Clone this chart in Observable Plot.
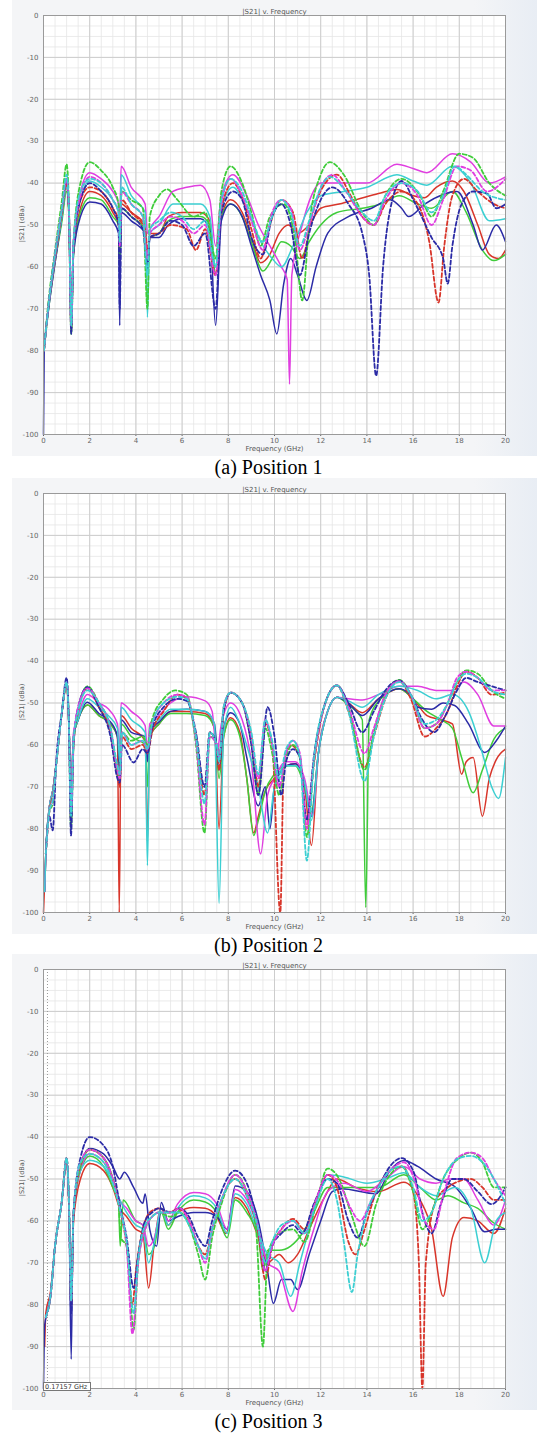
<!DOCTYPE html>
<html><head><meta charset="utf-8">
<script src="https://cdn.jsdelivr.net/npm/d3@7"></script>
<script src="https://cdn.jsdelivr.net/npm/@observablehq/plot@0.6"></script>
<style>
body{margin:0;background:#fff;width:537px;height:1435px;overflow:hidden;}
.panel{position:relative;width:537px;}
.shot{position:absolute;left:12px;top:0;width:525px;height:456px;background:linear-gradient(to right,#f4f5f7 0%,#f4f5f7 88%,#e8edf4 100%);}
.panel svg{position:absolute;left:0;top:0;}
.ylab{position:absolute;left:-8px;top:220px;width:60px;text-align:center;transform:rotate(-90deg);font-family:"DejaVu Sans",sans-serif;font-size:6.5px;color:#555;}
.cap{position:absolute;left:0;width:537px;text-align:center;font-family:"Times New Roman","Liberation Serif","DejaVu Serif",serif;font-size:20px;line-height:22px;color:#000;z-index:5;}
.marker{position:absolute;left:43px;top:428px;width:48px;height:9px;border:1px solid #777;background:#fff;font-family:"DejaVu Sans",sans-serif;font-size:6.5px;line-height:9px;color:#333;padding-left:1px;box-sizing:border-box;}
</style></head>
<body>
<div id="root"></div>
<script>
// ---------- data: |S21| (dB) vs frequency (GHz) ----------
const xTicks = [0, 2, 4, 6, 8, 10, 12, 14, 16, 18, 20];
const yTicks = [0, -10, -20, -30, -40, -50, -60, -70, -80, -90, -100];
const colors = {red: "#d8352a", green: "#3fcc3a", blue: "#2b2ba6", magenta: "#e03ee0", cyan: "#3ccfd2"};
const captions = ["(a) Position 1", "(b) Position 2", "(c) Position 3"];
const markerFreq = 0.17157;

// Position 1
const p1_red = [[0.02,-80],[0.2,-70],[0.5,-58],[0.8,-48],[1.0,-41],[1.1,-47],[1.2,-72],[1.3,-56],[1.6,-46],[2.0,-42],[2.5,-43],[3.0,-47],[3.25,-50],[3.3,-60],[3.36,-45],[3.8,-47],[4.4,-50],[4.5,-58],[4.6,-52],[5.0,-52],[5.4,-48],[6.0,-47],[6.8,-47],[7.2,-49],[7.45,-62],[7.7,-48],[8.1,-44],[8.6,-47],[9.0,-53],[9.4,-59],[9.8,-57],[10.2,-52],[10.6,-50],[11.0,-52],[11.5,-50],[12.0,-46],[12.8,-45],[13.5,-44],[14.5,-42.5],[15.3,-41.5],[16.0,-43],[16.5,-43.5],[17.0,-41],[17.7,-39.5],[18.2,-42],[18.8,-50],[19.3,-57],[19.7,-58],[20,-56]];
const p1_green = [[0.02,-80],[0.2,-71],[0.5,-59],[0.8,-49],[1.0,-42],[1.1,-48],[1.2,-74],[1.3,-57],[1.6,-47],[2.0,-43.5],[2.5,-44],[3.0,-48],[3.25,-50],[3.3,-58],[3.36,-46],[3.8,-48],[4.4,-51],[4.5,-60],[4.6,-53],[5.0,-52],[5.4,-49],[6.0,-48],[6.8,-48],[7.2,-50],[7.45,-62],[7.7,-48],[8.1,-45],[8.6,-48],[9.0,-54],[9.5,-61],[9.9,-58],[10.3,-54],[10.7,-55],[11.1,-58],[11.5,-54],[12.0,-50],[12.7,-47],[13.8,-46],[14.6,-45],[15.4,-43],[16.2,-45],[16.8,-46],[17.7,-42],[18.3,-47],[19.0,-56],[19.5,-58.5],[20,-57]];
const p1_blue = [[0,-100],[0.03,-80],[0.2,-71],[0.5,-59],[0.8,-48],[1.0,-40],[1.1,-47],[1.2,-73],[1.3,-57],[1.6,-48],[2.0,-44.5],[2.5,-45],[3.0,-49],[3.25,-52],[3.3,-74],[3.36,-47],[3.8,-49],[4.4,-52],[4.5,-62],[4.6,-53],[5.0,-53],[5.4,-50],[6.0,-48.5],[6.8,-48.5],[7.2,-51],[7.45,-74],[7.7,-49],[8.1,-45],[8.6,-48],[9.0,-55],[9.4,-62],[9.8,-68],[10.1,-76],[10.4,-64],[10.7,-58],[11.0,-62],[11.4,-68],[11.8,-60],[12.3,-52],[13.2,-48],[14.2,-46],[15.0,-44],[15.5,-46],[15.8,-48],[16.5,-45],[17.9,-42],[18.6,-50],[19.0,-56],[19.6,-50],[20,-54]];
const p1_magenta = [[0.02,-80],[0.2,-70],[0.5,-58],[0.8,-47],[1.0,-40],[1.1,-46],[1.2,-70],[1.3,-54],[1.6,-42],[2.0,-37.5],[2.5,-39],[3.0,-42],[3.25,-45],[3.3,-50],[3.36,-36],[3.8,-41],[4.4,-45],[4.5,-52],[4.7,-50],[5.0,-48],[5.6,-42],[6.2,-41],[6.8,-40.5],[7.2,-44],[7.45,-55],[7.7,-43],[8.2,-38],[8.8,-43],[9.3,-50],[9.8,-55],[10.3,-60],[10.55,-63],[10.65,-88],[10.75,-62],[11.2,-50],[11.6,-43],[12.0,-40],[13.0,-40],[14.0,-40],[15.3,-35.5],[16.0,-36.5],[16.6,-37.5],[17.7,-33],[18.5,-35],[19.3,-40],[20,-38.5]];
const p1_cyan = [[0.02,-80],[0.2,-70],[0.5,-58],[0.8,-48],[1.0,-41],[1.1,-47],[1.2,-72],[1.3,-55],[1.6,-44],[2.0,-39.5],[2.5,-41],[3.0,-44],[3.25,-47],[3.3,-55],[3.36,-38],[3.8,-43],[4.4,-47],[4.5,-72],[4.6,-52],[5.0,-50],[5.6,-45],[6.2,-45],[6.8,-45],[7.2,-48],[7.45,-60],[7.7,-46],[8.2,-41],[8.8,-46],[9.4,-54],[9.9,-58],[10.3,-60],[10.8,-55],[11.4,-47],[12.0,-43],[13.0,-42],[14.0,-41],[15.3,-38],[16.0,-39.5],[16.6,-40.5],[17.7,-36],[18.5,-40],[19.3,-49],[20,-48.5]];
const p1_redDash = [[0.02,-80],[0.2,-70],[0.5,-58],[0.8,-47],[1.0,-40],[1.1,-47],[1.2,-75],[1.3,-55],[1.6,-44],[2.0,-41],[2.5,-42],[3.0,-46],[3.25,-49],[3.3,-56],[3.38,-44],[3.8,-47],[4.4,-51],[4.5,-56],[4.6,-53],[5.0,-52],[5.5,-50],[6.2,-51],[6.6,-56],[7.0,-51],[7.45,-62],[7.7,-46],[8.2,-40],[8.7,-45],[9.0,-51],[9.4,-58],[9.8,-50],[10.3,-44],[10.8,-47],[11.2,-58],[11.6,-48],[12.2,-40],[12.7,-38],[13.3,-43],[13.8,-48],[14.3,-50],[14.8,-45],[15.5,-42],[16.2,-45],[16.7,-54],[17.1,-68.5],[17.35,-55],[17.7,-43],[18.2,-39],[18.8,-42],[19.5,-45],[20,-46]];
const p1_greenDash = [[0.02,-80],[0.2,-69],[0.5,-56],[0.8,-44],[1.0,-35.5],[1.1,-45],[1.2,-76],[1.3,-54],[1.6,-40],[2.0,-35],[2.5,-37],[3.0,-41],[3.25,-45],[3.3,-58],[3.38,-42],[3.8,-44],[4.3,-46],[4.5,-70],[4.6,-48],[5.0,-43],[5.35,-41.5],[5.8,-44],[6.5,-48],[7.0,-47],[7.45,-58],[7.7,-42],[8.1,-36],[8.6,-40],[9.0,-47],[9.4,-55],[9.8,-48],[10.4,-45],[10.9,-54],[11.2,-68],[11.5,-50],[12.0,-38],[12.4,-35],[13.0,-38],[13.8,-47],[14.3,-50],[14.8,-43],[15.5,-39],[16.3,-43],[16.8,-48],[17.3,-42],[18.0,-33],[18.6,-34],[19.3,-40],[20,-43]];
const p1_blueDash = [[0.02,-80],[0.2,-70],[0.5,-57],[0.8,-46],[1.0,-39],[1.1,-46],[1.2,-76],[1.3,-55],[1.6,-44],[2.0,-40],[2.5,-42],[3.0,-46],[3.25,-50],[3.3,-70],[3.38,-46],[3.8,-48],[4.3,-51],[4.5,-60],[4.6,-53],[5.0,-52],[5.5,-49],[6.0,-50],[6.5,-55],[7.0,-52],[7.45,-70],[7.7,-47],[8.2,-42],[8.6,-44],[9.0,-53],[9.5,-57],[9.9,-48],[10.3,-45],[10.7,-50],[11.1,-62],[11.5,-52],[12.0,-44],[12.5,-41],[13.2,-45],[13.8,-52],[14.1,-62],[14.4,-86],[14.7,-60],[15.1,-44],[15.5,-39.5],[16.1,-45],[16.8,-53],[17.3,-58],[17.5,-64],[17.7,-55],[18.1,-45],[18.6,-42],[19.2,-42.5],[19.6,-46],[20,-45]];
const p1_magentaDash = [[0.02,-80],[0.2,-70],[0.5,-57],[0.8,-46],[1.0,-39],[1.1,-46],[1.2,-74],[1.3,-54],[1.6,-43],[2.0,-38.5],[2.5,-40],[3.0,-44],[3.25,-47],[3.3,-55],[3.38,-42],[3.8,-45],[4.3,-48],[4.5,-58],[4.6,-52],[5.0,-50],[5.5,-48],[6.0,-49],[6.5,-52],[7.0,-50],[7.45,-62],[7.7,-45],[8.1,-39],[8.6,-43],[9.0,-49],[9.5,-56],[9.9,-47],[10.3,-44],[10.7,-46],[11.1,-56],[11.5,-50],[12.1,-40],[12.5,-38],[13.1,-42],[13.8,-48],[14.3,-50],[14.8,-44],[15.5,-40],[16.2,-43],[16.8,-50],[17.3,-44],[17.9,-36],[18.5,-37],[19.2,-42],[20,-39]];
const p1_cyanDash = [[0.02,-80],[0.2,-70],[0.5,-57],[0.8,-46],[1.0,-38],[1.1,-46],[1.2,-74],[1.3,-54],[1.6,-42],[2.0,-39],[2.5,-40],[3.0,-44],[3.25,-47],[3.3,-54],[3.38,-41],[3.8,-45],[4.3,-48],[4.5,-62],[4.6,-51],[5.0,-49],[5.5,-47],[6.0,-48],[6.5,-51],[7.0,-49],[7.45,-60],[7.7,-44],[8.1,-39],[8.6,-42],[9.0,-48],[9.5,-54],[9.9,-48],[10.3,-44],[10.7,-47],[11.1,-55],[11.5,-49],[12.1,-40],[12.4,-38.5],[13.1,-42],[13.8,-47],[14.3,-49],[14.8,-43],[15.5,-40],[16.2,-42],[16.8,-47],[17.3,-43],[17.8,-36],[18.3,-38],[19.0,-42],[20,-44]];

// Position 2
const p2_red = [[0,-100],[0.1,-86],[0.25,-75],[0.4,-71],[0.6,-62],[0.8,-52],[1.0,-46],[1.1,-55],[1.19,-70],[1.3,-58],[1.5,-54],[1.9,-50.5],[2.4,-53],[2.9,-55],[3.2,-58],[3.28,-100],[3.36,-53],[3.8,-56],[4.4,-59],[4.5,-83],[4.6,-58],[5.0,-55],[5.5,-52],[6.2,-52],[7.0,-52.5],[7.4,-56],[7.6,-80],[7.8,-58],[8.1,-53.5],[8.5,-57],[8.8,-68],[9.1,-81],[9.3,-77],[9.6,-71],[10.0,-68],[10.5,-65],[10.9,-64.5],[11.3,-70],[11.6,-84],[11.9,-62],[12.3,-52],[12.7,-48.6],[13.2,-50],[13.8,-52.3],[14.5,-49],[15.4,-46.6],[16.0,-49],[16.6,-53],[17.2,-54],[17.7,-55],[18.1,-67],[18.3,-64],[18.6,-63],[19.0,-77],[19.3,-68],[19.6,-63.5],[20,-61]];
const p2_green = [[0.05,-95],[0.1,-86],[0.25,-75],[0.4,-71],[0.6,-62],[0.8,-52],[1.0,-46],[1.1,-55],[1.19,-72],[1.3,-58],[1.5,-54],[1.9,-50.5],[2.4,-53],[2.9,-55],[3.2,-58],[3.3,-66],[3.36,-55],[3.8,-58],[4.4,-60],[4.5,-70],[4.6,-58],[5.0,-55],[5.5,-52.5],[6.2,-52.5],[7.0,-53],[7.4,-56],[7.6,-68],[7.8,-58],[8.1,-54],[8.5,-58],[8.8,-68],[9.1,-81.6],[9.3,-78],[9.6,-71],[10.0,-67],[10.5,-65],[10.9,-65],[11.3,-70],[11.6,-76],[11.9,-62],[12.3,-52],[12.7,-48.6],[13.2,-50.5],[13.8,-54],[13.95,-98.8],[14.1,-54],[14.6,-49],[15.4,-46.6],[16.0,-49],[16.6,-52],[17.2,-54],[17.7,-56],[18.1,-63],[18.6,-71.4],[19.0,-66],[19.5,-58.6],[20,-56]];
const p2_blue = [[0.05,-95],[0.1,-86],[0.25,-75],[0.4,-71],[0.6,-62],[0.8,-52],[1.0,-45],[1.1,-55],[1.19,-74],[1.3,-58],[1.5,-54],[1.9,-49.8],[2.4,-52.5],[2.9,-54.5],[3.2,-58],[3.3,-66],[3.36,-54],[3.8,-57],[4.4,-58],[4.5,-64],[4.6,-57],[5.0,-54.5],[5.5,-52],[6.2,-51.5],[7.0,-52],[7.4,-55],[7.6,-66],[7.8,-56],[8.1,-52.3],[8.5,-55],[8.8,-63],[9.3,-74.5],[9.6,-70],[9.8,-80],[10.0,-70],[10.5,-65],[10.9,-64.5],[11.3,-69],[11.6,-77],[11.9,-62],[12.3,-52],[12.7,-48.6],[13.2,-50],[13.8,-53],[14.5,-49],[15.4,-46.6],[16.0,-49],[16.2,-51],[16.8,-51.5],[17.3,-50],[17.8,-50.6],[18.4,-55],[19.1,-61.8],[19.6,-59],[20,-55.5]];
const p2_magenta = [[0.05,-95],[0.1,-86],[0.25,-75],[0.4,-71],[0.6,-62],[0.8,-52],[1.0,-45],[1.1,-55],[1.19,-72],[1.3,-57],[1.5,-53],[1.9,-48],[2.4,-50],[2.8,-51.4],[3.2,-55],[3.3,-62],[3.36,-50],[3.8,-52],[4.4,-55.4],[4.5,-62],[4.6,-55],[5.0,-53],[5.5,-50],[6.2,-48.5],[7.0,-49.5],[7.3,-52],[7.5,-62],[7.7,-55],[8.1,-50],[8.6,-54],[9.0,-64],[9.4,-86],[9.7,-72],[10.0,-68],[10.5,-64],[10.9,-64],[11.3,-68],[11.65,-77],[11.9,-62],[12.3,-52],[12.7,-48.6],[13.2,-49],[13.8,-49.3],[14.5,-48],[15.4,-46],[16.2,-46],[17.0,-47],[17.7,-47],[18.2,-45],[18.8,-48],[19.5,-55.5],[20,-55.5]];
const p2_cyan = [[0.05,-95],[0.1,-86],[0.25,-75],[0.4,-71],[0.6,-62],[0.8,-52],[1.0,-45],[1.1,-55],[1.19,-74],[1.3,-58],[1.5,-54],[1.9,-49],[2.4,-51],[2.8,-53],[3.2,-56],[3.3,-64],[3.36,-51],[3.8,-54],[4.4,-57],[4.5,-88.8],[4.6,-56],[5.0,-54],[5.5,-51.5],[6.2,-51.5],[7.0,-52],[7.4,-55],[7.6,-97.8],[7.8,-57],[8.1,-51],[8.5,-55],[8.9,-62],[9.3,-70],[9.7,-81],[10.0,-70],[10.5,-65],[10.9,-65],[11.3,-69],[11.6,-78],[11.9,-62],[12.3,-52],[12.7,-48.6],[13.2,-49.5],[13.8,-51],[14.5,-48],[15.4,-46],[16.2,-47],[17.0,-49],[17.7,-48],[18.4,-52],[19.0,-62],[19.4,-70],[19.7,-72.8],[20,-63]];
const p2_redDash = [[0.1,-86],[0.25,-76],[0.4,-72],[0.6,-62],[0.8,-52],[1.0,-45],[1.1,-55],[1.19,-78],[1.3,-60],[1.5,-52],[1.9,-46.5],[2.4,-51],[2.9,-57],[3.2,-67],[3.3,-70],[3.4,-58],[3.8,-61],[4.3,-60],[4.5,-62],[4.7,-57],[5.2,-52],[5.8,-48],[6.2,-49],[6.6,-58],[6.97,-72],[7.2,-57],[7.5,-60],[7.6,-66],[7.8,-52],[8.1,-47.5],[8.6,-50],[9.0,-58],[9.3,-70],[9.6,-55],[9.9,-60],[10.25,-100],[10.4,-65],[10.7,-60],[11.1,-63],[11.4,-80],[11.7,-65],[12.2,-50],[12.7,-45.8],[13.2,-52],[13.9,-65.4],[14.3,-58],[14.8,-49],[15.4,-44.8],[15.9,-49],[16.5,-58],[17.0,-56],[17.5,-52],[17.9,-46],[18.3,-42.5],[18.8,-44],[19.4,-48],[20,-47.5]];
const p2_greenDash = [[0.1,-86],[0.25,-76],[0.4,-74],[0.6,-62],[0.8,-52],[1.0,-45],[1.1,-55],[1.19,-80],[1.3,-60],[1.5,-52],[1.9,-46],[2.4,-50],[2.9,-56],[3.2,-66],[3.3,-68],[3.4,-57],[3.8,-59],[4.3,-58],[4.5,-60],[4.7,-54],[5.2,-49],[5.7,-47],[6.2,-48],[6.6,-60],[6.97,-81],[7.2,-58],[7.5,-60],[7.6,-63],[7.8,-51],[8.1,-47.5],[8.6,-50],[9.0,-60],[9.3,-72],[9.6,-56],[9.9,-62],[10.2,-72],[10.5,-63],[10.8,-60],[11.1,-63],[11.4,-82],[11.7,-64],[12.2,-50],[12.7,-45.8],[13.2,-51],[13.9,-66],[14.3,-57],[14.8,-48],[15.4,-44.5],[15.9,-48],[16.5,-56],[17.0,-55],[17.5,-50],[17.9,-45],[18.3,-42.2],[18.8,-43],[19.4,-47],[20,-49]];
const p2_blueDash = [[0.1,-86],[0.25,-77],[0.4,-80.4],[0.55,-64],[0.8,-52],[1.0,-44],[1.1,-55],[1.19,-81.6],[1.3,-60],[1.5,-51],[1.9,-46.2],[2.4,-51],[2.9,-58],[3.2,-68],[3.3,-69],[3.4,-60],[3.9,-64.2],[4.3,-61],[4.5,-62],[4.7,-56],[5.2,-51],[5.8,-49],[6.2,-49.5],[6.6,-57],[6.97,-70],[7.2,-57],[7.5,-60],[7.6,-64],[7.8,-52],[8.1,-47.5],[8.6,-50],[9.0,-60],[9.3,-72],[9.7,-51],[10.0,-58],[10.3,-72],[10.5,-64],[10.8,-61],[11.1,-63],[11.4,-78],[11.7,-63],[12.2,-50],[12.7,-45.8],[13.2,-50],[13.8,-57],[14.3,-52],[14.8,-47],[15.4,-44.6],[15.9,-48],[16.4,-54],[16.9,-57],[17.4,-53],[17.9,-47],[18.3,-44],[18.8,-45],[19.4,-46],[20,-47]];
const p2_magentaDash = [[0.1,-86],[0.25,-76],[0.4,-73],[0.6,-62],[0.8,-52],[1.0,-45],[1.1,-55],[1.19,-76],[1.3,-59],[1.5,-51],[1.9,-46.5],[2.4,-50],[2.9,-56],[3.2,-66],[3.3,-68],[3.4,-57],[3.8,-60],[4.3,-59],[4.5,-61],[4.7,-55],[5.2,-50],[5.8,-48],[6.2,-48.5],[6.6,-59],[6.97,-79],[7.2,-58],[7.5,-60],[7.6,-63],[7.8,-51],[8.1,-47.5],[8.6,-50],[9.0,-58],[9.3,-68],[9.6,-54],[9.9,-60],[10.2,-70],[10.5,-62],[10.8,-59],[11.1,-62],[11.4,-80],[11.7,-64],[12.2,-50],[12.7,-45.8],[13.2,-51],[13.9,-62],[14.3,-56],[14.8,-48],[15.4,-44.8],[15.9,-48],[16.5,-56],[17.0,-55],[17.5,-50],[17.9,-44],[18.3,-42.5],[18.8,-44],[19.4,-47],[20,-47]];
const p2_cyanDash = [[0.1,-86],[0.25,-76],[0.4,-73],[0.6,-62],[0.8,-52],[1.0,-45],[1.1,-55],[1.19,-77],[1.3,-59],[1.5,-52],[1.9,-47],[2.4,-50],[2.9,-56],[3.2,-65],[3.3,-67],[3.4,-57],[3.8,-60],[4.3,-59],[4.5,-61],[4.7,-55],[5.2,-50],[5.8,-48.5],[6.2,-49],[6.6,-58],[6.97,-74],[7.2,-57],[7.5,-60],[7.6,-64],[7.8,-51],[8.1,-47.5],[8.6,-50],[9.0,-57],[9.3,-67],[9.6,-54],[9.9,-59],[10.2,-68],[10.5,-61],[10.8,-59],[11.1,-63],[11.4,-87.6],[11.7,-64],[12.2,-50],[12.7,-45.8],[13.2,-52],[13.9,-68.6],[14.3,-58],[14.8,-49],[15.4,-45],[15.9,-48],[16.5,-55],[17.0,-54],[17.5,-50],[17.9,-45],[18.3,-43],[18.8,-44],[19.4,-47],[20,-48]];

// Position 3
const p3_red = [[0.05,-90],[0.1,-82],[0.3,-77],[0.5,-66],[0.8,-55],[1.0,-46],[1.1,-56],[1.2,-75],[1.3,-60],[1.6,-50],[2.0,-46.3],[2.6,-48],[3.0,-52],[3.3,-57],[3.6,-59],[4.0,-62],[4.3,-63],[4.55,-76],[4.8,-65],[5.1,-57],[5.4,-61],[5.8,-58],[6.5,-56.8],[7.0,-57],[7.5,-59],[7.9,-63],[8.3,-54.4],[8.8,-57],[9.3,-64],[9.7,-70],[10.2,-68],[10.6,-70],[11.0,-68],[11.5,-62],[12.2,-54],[12.7,-50],[13.5,-52],[14.5,-53],[15.6,-50.8],[16.3,-55],[16.8,-62],[17.3,-78],[17.7,-64],[18.2,-59.2],[18.8,-60],[19.5,-63],[20,-57]];
const p3_green = [[0.1,-83],[0.3,-78],[0.5,-66],[0.8,-55],[1.0,-45],[1.1,-55],[1.2,-78],[1.3,-58],[1.6,-48],[2.0,-44.5],[2.6,-47],[3.0,-52],[3.25,-56],[3.32,-66],[3.45,-55],[4.0,-60],[4.3,-61],[4.55,-68],[4.8,-66],[5.1,-58],[5.4,-62],[5.8,-58],[6.5,-55],[7.0,-55.5],[7.5,-58],[7.95,-64],[8.3,-55],[8.8,-58],[9.3,-64],[9.5,-72],[9.7,-67],[10.2,-67],[10.7,-66],[11.2,-63],[11.7,-58],[12.3,-52],[13.5,-52],[14.5,-52],[15.6,-49],[16.3,-52],[17.0,-55],[17.5,-54],[18.2,-55.7],[18.8,-57],[19.5,-60.5],[20,-62]];
const p3_blue = [[0,-100],[0.05,-85],[0.15,-82],[0.3,-78],[0.5,-66],[0.8,-55],[1.0,-45],[1.1,-56],[1.2,-93],[1.28,-60],[1.6,-47],[2.0,-42.7],[2.6,-44],[3.0,-47],[3.3,-50],[3.5,-48.4],[3.9,-52],[4.3,-55.8],[4.4,-53.6],[4.6,-62],[4.9,-66],[5.1,-55.6],[5.4,-60],[5.8,-59],[6.5,-58],[7.0,-58],[7.5,-59],[7.95,-62],[8.3,-51.7],[8.8,-53],[9.3,-60],[9.7,-72],[9.95,-79.7],[10.3,-74],[10.7,-74],[11.0,-76.4],[11.5,-68],[12.0,-60],[12.5,-53],[12.9,-52.3],[14.4,-53.5],[15.0,-48],[15.6,-45.6],[16.2,-47],[17.0,-50],[17.8,-51.8],[18.5,-57],[19.1,-62.6],[19.6,-62],[20,-62]];
const p3_magenta = [[0.1,-83],[0.3,-78],[0.5,-66],[0.8,-55],[1.0,-45],[1.1,-55],[1.2,-78],[1.3,-58],[1.6,-48],[2.0,-44],[2.6,-46],[3.0,-50],[3.3,-55],[3.6,-57],[4.0,-60],[4.3,-61],[4.55,-66],[4.8,-64],[5.1,-57],[5.4,-60],[5.8,-56],[6.5,-53.2],[7.0,-53.5],[7.5,-56],[7.95,-62],[8.3,-52.5],[8.8,-55],[9.3,-62],[9.7,-70],[10.2,-72],[10.8,-81.6],[11.2,-72],[11.7,-62],[12.3,-53],[13.0,-51],[14.0,-53],[14.8,-50],[15.6,-47],[16.3,-50],[17.0,-51],[17.6,-50],[18.2,-50],[18.8,-55],[19.5,-61],[20,-55]];
const p3_cyan = [[0.1,-83],[0.3,-78],[0.5,-66],[0.8,-55],[1.0,-45],[1.1,-55],[1.2,-77],[1.3,-58],[1.6,-48],[2.0,-45.5],[2.6,-47],[3.0,-51],[3.3,-55],[3.6,-58],[4.0,-61],[4.3,-62],[4.55,-70],[4.8,-65],[5.1,-57],[5.4,-61],[5.8,-57],[6.5,-54],[7.0,-54.5],[7.5,-57],[7.95,-63],[8.3,-53.5],[8.8,-56],[9.3,-63],[9.7,-68],[10.2,-70],[10.7,-78],[11.1,-70],[11.6,-60],[12.3,-49],[13.0,-49.5],[14.0,-51],[14.8,-50],[15.6,-48.5],[16.3,-52],[17.0,-54],[17.8,-52],[18.5,-57],[19.1,-70],[19.6,-60],[20,-58]];
const p3_redDash = [[0.1,-83],[0.3,-78],[0.5,-66],[0.8,-55],[1.0,-45],[1.1,-56],[1.2,-80],[1.3,-59],[1.6,-47],[2.0,-43],[2.6,-45],[3.0,-50],[3.3,-57],[3.6,-66],[3.85,-80],[4.0,-72],[4.3,-62],[4.6,-58],[5.0,-57],[5.4,-58],[5.9,-57],[6.3,-60],[6.7,-66],[7.0,-68],[7.3,-62],[7.7,-55],[8.3,-50],[8.8,-54],[9.3,-63],[9.6,-74],[9.9,-66],[10.3,-62],[10.8,-59.5],[11.3,-62],[11.8,-55],[12.3,-49],[12.7,-52],[13.2,-65],[13.5,-68],[13.9,-62],[14.4,-53],[15.0,-48],[15.5,-47],[16.0,-53],[16.25,-70],[16.4,-100],[16.55,-70],[17.0,-55],[17.5,-52],[18.0,-50.5],[18.5,-50],[19.0,-52],[19.5,-55],[20,-55]];
const p3_greenDash = [[0.1,-83],[0.3,-78],[0.5,-66],[0.8,-55],[1.0,-45],[1.1,-55],[1.2,-79],[1.3,-58],[1.6,-47],[2.0,-43],[2.6,-45],[3.0,-50],[3.25,-56],[3.35,-64],[3.6,-66],[3.9,-86],[4.1,-70],[4.4,-62],[4.7,-59],[5.0,-58],[5.5,-59],[5.9,-58],[6.3,-61],[6.7,-68],[7.0,-74],[7.3,-64],[7.7,-56],[8.3,-49],[8.8,-53],[9.2,-62],[9.5,-90],[9.7,-68],[10.2,-63],[10.8,-62],[11.3,-65],[11.8,-56],[12.3,-47.5],[12.8,-50],[13.3,-58],[13.9,-66],[14.4,-56],[15.0,-49],[15.5,-47],[16.0,-53],[16.4,-62],[16.8,-58],[17.3,-50],[18.0,-45],[18.5,-43.7],[19.0,-46],[19.5,-52],[20,-52]];
const p3_blueDash = [[0.1,-83],[0.3,-78],[0.5,-66],[0.8,-55],[1.0,-45],[1.1,-56],[1.2,-82],[1.3,-58],[1.6,-45],[2.0,-40],[2.6,-42],[3.0,-47],[3.3,-56],[3.6,-64],[3.9,-76],[4.1,-68],[4.4,-60],[4.7,-58],[5.0,-57],[5.5,-58],[5.9,-57],[6.3,-59],[6.7,-64],[7.0,-66],[7.3,-60],[7.7,-53],[8.3,-48],[8.8,-51],[9.3,-62],[9.6,-72],[9.9,-66],[10.3,-63],[10.8,-61],[11.2,-63],[11.7,-56],[12.3,-50],[12.7,-51],[13.2,-60],[13.6,-64],[14.0,-58],[14.5,-52],[15.0,-47],[15.5,-45],[16.0,-48],[16.5,-60],[16.8,-63],[17.2,-56],[17.7,-50],[18.2,-50],[18.8,-53],[19.4,-56],[20,-52]];
const p3_magentaDash = [[0.1,-83],[0.3,-78],[0.5,-66],[0.8,-55],[1.0,-45],[1.1,-55],[1.2,-79],[1.3,-58],[1.6,-46],[2.0,-43],[2.6,-45],[3.0,-50],[3.3,-57],[3.6,-66],[3.85,-87],[4.1,-70],[4.4,-62],[4.7,-59],[5.0,-58],[5.5,-58],[5.9,-57],[6.3,-60],[6.7,-66],[7.0,-70],[7.3,-62],[7.7,-55],[8.3,-49],[8.8,-53],[9.3,-62],[9.6,-72],[9.9,-66],[10.3,-62],[10.8,-60],[11.3,-63],[11.8,-55],[12.3,-49],[12.8,-51],[13.3,-57],[13.7,-60],[14.2,-55],[14.7,-50],[15.2,-47],[15.6,-46],[16.1,-51],[16.5,-60],[16.9,-62],[17.3,-54],[17.9,-45],[18.5,-43.7],[19.0,-45],[19.5,-50],[20,-54]];
const p3_cyanDash = [[0.1,-83],[0.3,-78],[0.5,-66],[0.8,-55],[1.0,-45],[1.1,-55],[1.2,-79],[1.3,-58],[1.6,-46],[2.0,-44],[2.6,-46],[3.0,-51],[3.3,-57],[3.6,-65],[3.9,-82],[4.1,-69],[4.4,-61],[4.7,-59],[5.0,-58],[5.5,-58],[5.9,-58],[6.3,-61],[6.7,-66],[7.0,-69],[7.3,-62],[7.7,-55],[8.3,-50],[8.8,-54],[9.3,-62],[9.6,-70],[9.9,-65],[10.3,-61],[10.8,-60],[11.3,-63],[11.8,-56],[12.3,-50],[12.7,-55],[13.0,-65],[13.35,-77],[13.6,-68],[14.0,-58],[14.5,-52],[15.0,-48],[15.5,-47],[16.0,-52],[16.4,-60],[16.8,-58],[17.3,-50],[18.0,-45],[18.5,-44.5],[19.0,-46],[19.5,-50],[20,-56]];

const panels = [
  {solid: {red: p1_red, green: p1_green, blue: p1_blue, magenta: p1_magenta, cyan: p1_cyan},
   dashed: {red: p1_redDash, green: p1_greenDash, blue: p1_blueDash, magenta: p1_magentaDash, cyan: p1_cyanDash}, height: 478, marker: false},
  {solid: {red: p2_red, green: p2_green, blue: p2_blue, magenta: p2_magenta, cyan: p2_cyan},
   dashed: {red: p2_redDash, green: p2_greenDash, blue: p2_blueDash, magenta: p2_magentaDash, cyan: p2_cyanDash}, height: 476, marker: false},
  {solid: {red: p3_red, green: p3_green, blue: p3_blue, magenta: p3_magenta, cyan: p3_cyan},
   dashed: {red: p3_redDash, green: p3_greenDash, blue: p3_blueDash, magenta: p3_magentaDash, cyan: p3_cyanDash}, height: 481, marker: true}
];

// ---------- drawing ----------
const minorX = d3.range(0, 20.01, 0.5);
const minorY = d3.range(-100, 0.01, 2.5);
const root = document.getElementById("root");

panels.forEach((p, i) => {
  const div = document.createElement("div");
  div.className = "panel";
  div.style.height = p.height + "px";
  const shot = document.createElement("div");
  shot.className = "shot";
  div.appendChild(shot);

  const lineMarks = [];
  for (const [name, vals] of Object.entries(p.solid)) {
    lineMarks.push(Plot.line(vals, {x: d => d[0], y: d => d[1], stroke: colors[name], strokeWidth: 1.5, curve: "monotone-x"}));
  }
  for (const [name, vals] of Object.entries(p.dashed)) {
    lineMarks.push(Plot.line(vals, {x: d => d[0], y: d => d[1], stroke: colors[name], strokeWidth: 1.8, strokeDasharray: "4,2.5", curve: "monotone-x"}));
  }

  const svg = Plot.plot({
    width: 537, height: 456,
    marginLeft: 43, marginRight: 32, marginTop: 15, marginBottom: 22,
    style: {background: "transparent", fontFamily: "DejaVu Sans, sans-serif", fontSize: "7px", color: "#666"},
    x: {domain: [0, 20], ticks: xTicks, tickFormat: d => String(d), tickSize: 2, tickPadding: 2, label: null},
    y: {domain: [-100, 0], ticks: yTicks, tickFormat: d => String(d), tickSize: 0, tickPadding: 5, label: null},
    marks: [
      Plot.frame({fill: "white"}),
      Plot.ruleX(minorX, {stroke: "#e6e6e6", strokeWidth: 0.8}),
      Plot.ruleY(minorY, {stroke: "#e6e6e6", strokeWidth: 0.8}),
      Plot.ruleX(xTicks, {stroke: "#cdcdcd", strokeWidth: 1}),
      Plot.ruleY(yTicks, {stroke: "#cdcdcd", strokeWidth: 1}),
      ...(p.marker ? [Plot.ruleX([markerFreq], {stroke: "#999", strokeWidth: 1, strokeDasharray: "1,2"})] : []),
      ...lineMarks,
      Plot.frame({stroke: "#9a9a9a", strokeWidth: 1}),
      Plot.text(["|S21| v. Frequency"], {frameAnchor: "top", dy: -6, fontSize: 7, fill: "#555"}),
      Plot.text(["Frequency (GHz)"], {frameAnchor: "bottom", dy: 16, fontSize: 7, fill: "#555"})
    ]
  });
  div.appendChild(svg);

  const ylab = document.createElement("div");
  ylab.className = "ylab";
  ylab.textContent = "|S21| (dBa)";
  div.appendChild(ylab);

  if (p.marker) {
    const m = document.createElement("div");
    m.className = "marker";
    m.textContent = markerFreq + " GHz";
    div.appendChild(m);
  }

  const cap = document.createElement("div");
  cap.className = "cap";
  cap.style.top = "456px";
  cap.textContent = captions[i];
  div.appendChild(cap);
  root.appendChild(div);
});
</script>
</body></html>
